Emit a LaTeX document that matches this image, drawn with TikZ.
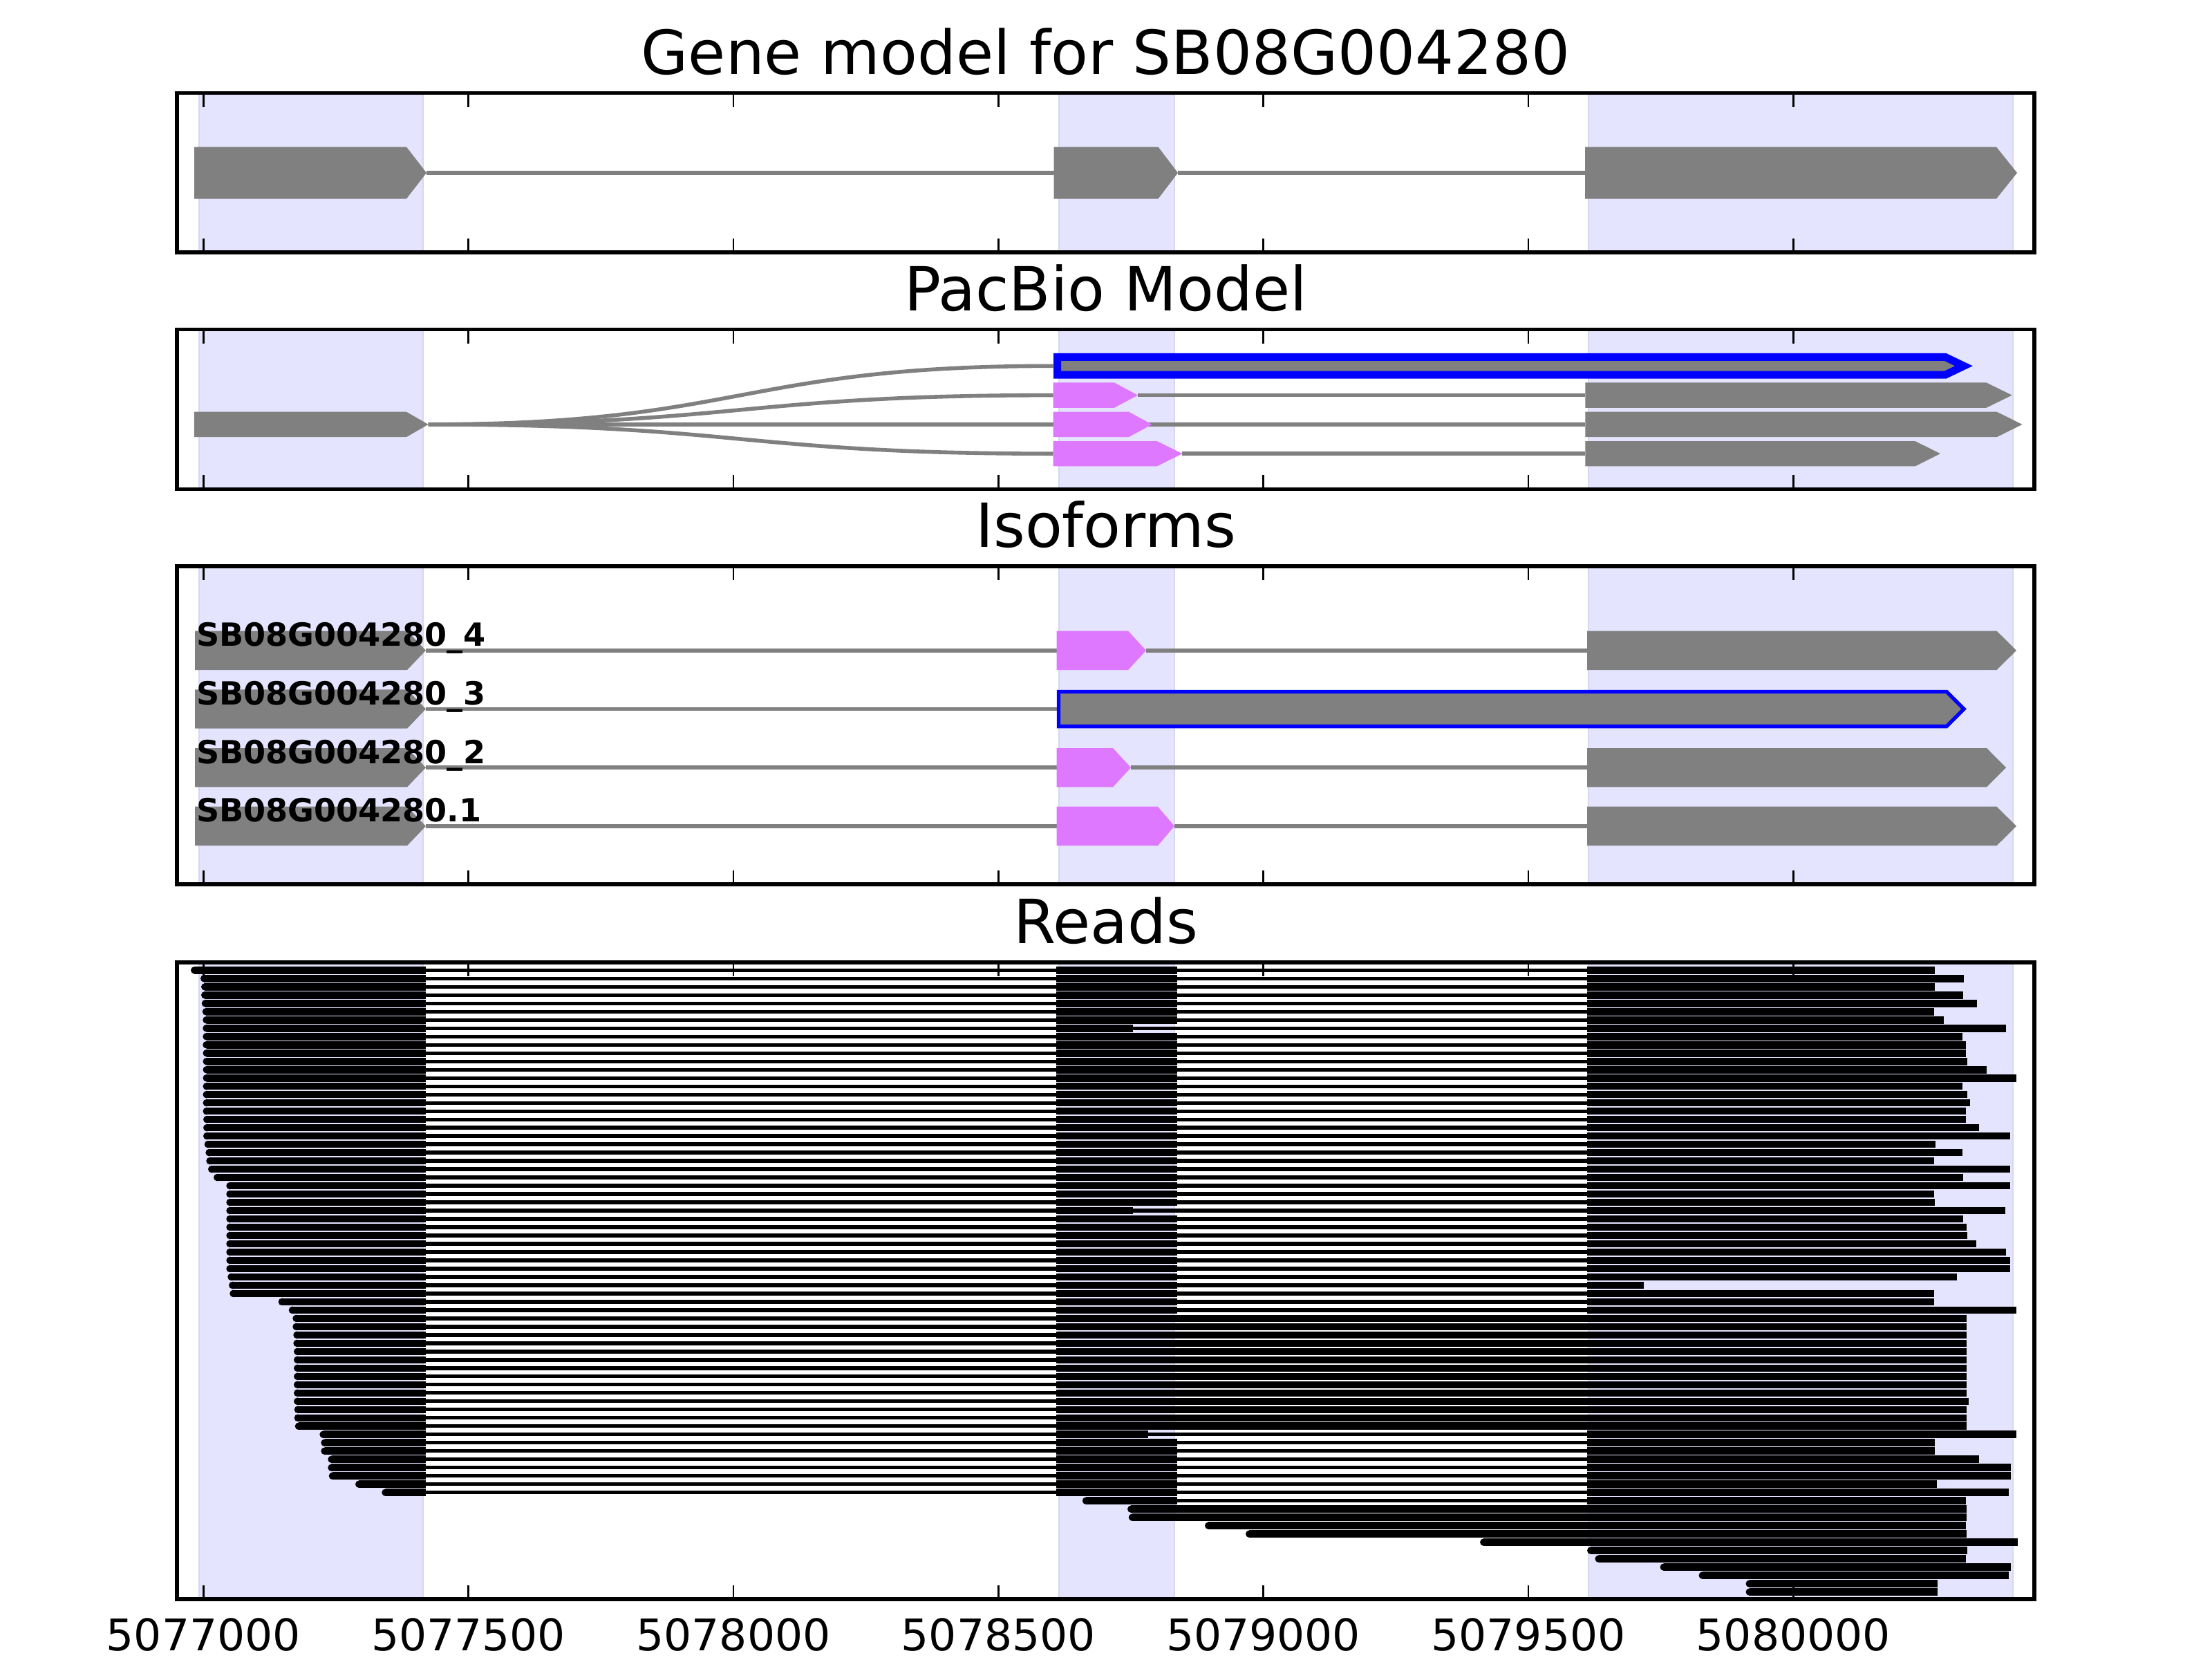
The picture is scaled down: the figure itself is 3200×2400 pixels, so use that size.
\documentclass[tikz,border=0pt]{standalone}
\usepackage{fontspec}
\setmainfont{DejaVu Sans}
\definecolor{hlfill}{RGB}{228,228,254}
\definecolor{hledge}{RGB}{214,214,238}
\definecolor{exgrey}{RGB}{128,128,128}
\definecolor{expink}{RGB}{222,120,255}
\def\pxu{0.180675pt}
\tikzset{
 hl/.style={fill=hlfill, draw=hledge, line width=2*\pxu},
 spine/.style={draw=black, line width=5.2*\pxu},
 tickm/.style={draw=black, line width=2.8*\pxu},
 intron/.style={draw=exgrey, line width=5.6*\pxu},
 gex/.style={fill=exgrey},
 pex/.style={fill=expink},
 bex/.style={fill=exgrey, draw=blue, line join=miter},
 thinread/.style={draw=black, line width=5.3*\pxu},
 ttl/.style={anchor=base, inner sep=0, font=\fontsize{15.9pt}{19pt}\selectfont},
 ticklab/.style={anchor=north, inner sep=0, font=\fontsize{11.4pt}{14pt}\selectfont},
 isolab/.style={anchor=base west, inner sep=0, font=\fontsize{8.33pt}{10pt}\selectfont\bfseries},
}
% highlight bands
\newcommand\hls[2]{%
 \path[hl] (288,#1) rectangle (612,#2);
 \path[hl] (1532,#1) rectangle (1699,#2);
 \path[hl] (2298,#1) rectangle (2912,#2);}
% axes frame with inward ticks
\newcommand\axbox[2]{%
 \draw[spine] (256,#1) rectangle (2943,#2);
 \foreach \tk in {294.3,677.6,1061,1444.3,1827.6,2211,2594.3}{
  \draw[tickm] (\tk,#1) -- (\tk,#1+20);
  \draw[tickm] (\tk,#2) -- (\tk,#2-20);}}
% exon arrow: style, x0, head start, tip, y centre, half height
\newcommand\exn[6]{\path[#1] (#2,#5-#6) -- (#3,#5-#6) -- (#4,#5) -- (#3,#5+#6) -- (#2,#5+#6) -- cycle;}
% reads
\newcommand\rbar[2]{\fill ({#1+5.3},\ry-5.3) rectangle (#2,\ry+5.3); \fill ({#1+5.3},\ry) circle[radius=5.3];}
\newcommand\sbar[2]{\fill (#1,\ry-5.3) rectangle (#2,\ry+5.3);}
\newcommand\rdA[4]{\pgfmathsetmacro\ry{1403.3+11.99*#1}%
 \draw[thinread] (615.7,\ry) -- (2296,\ry);
 \rbar{#2}{615.7}\sbar{1528}{#3}\sbar{2296}{#4}}
\newcommand\rdR[3]{\pgfmathsetmacro\ry{1403.3+11.99*#1}%
 \draw[thinread] (615.7,\ry) -- (1528,\ry);
 \rbar{#2}{615.7}\sbar{1528}{#3}}
\newcommand\rdM[3]{\pgfmathsetmacro\ry{1403.3+11.99*#1}%
 \draw[thinread] (1702.7,\ry) -- (2296,\ry);
 \rbar{#2}{1702.7}\sbar{2296}{#3}}
\newcommand\rdT[3]{\pgfmathsetmacro\ry{1403.3+11.99*#1}%
 \rbar{#2}{#3}}
\begin{document}
\begin{tikzpicture}[x=\pxu, y=-\pxu]
\useasboundingbox[fill=white] (0,0) rectangle (3200,2400);

% ---------- Panel 1: gene model ----------
\node[ttl] (t1) at (1599.5,107) {Gene model for SB08G004280};
\hls{134.8}{365}
\draw[intron] (617,250) -- (1524.5,250);
\draw[intron] (1704,250) -- (2293,250);
\exn{gex}{281}{588}{617}{250}{37.5}
\exn{gex}{1524.5}{1675.5}{1704}{250}{37.5}
\exn{gex}{2293}{2888}{2918}{250}{37.5}
\axbox{134.8}{365}

% ---------- Panel 2: PacBio model ----------
\node[ttl] (t2) at (1599.5,449) {PacBio Model};
\hls{476.7}{707.3}
\draw[intron] (619.6,613.9) .. controls (1071.7,613.9) and (1071.7,529.3) .. (1523.7,529.3);
\draw[intron] (619.6,613.9) .. controls (1071.7,613.9) and (1071.7,571.6) .. (1523.7,571.6);
\draw[intron] (619.6,613.9) -- (2293.4,613.9);
\draw[intron] (619.6,613.9) .. controls (1071.7,613.9) and (1071.7,656.2) .. (1523.7,656.2);
\draw[intron] (1646,571.6) -- (2293.4,571.6);
\draw[intron] (1710.4,656.2) -- (2293.4,656.2);
\exn{gex}{280.8}{588}{619.6}{613.9}{18.2}
\path[bex, line width=11*\pxu] (1529.5,516.4) -- (2814,516.4) -- (2841,529.3) -- (2814,542.2) -- (1529.5,542.2) -- cycle;
\exn{pex}{1523.7}{1612}{1646}{571.6}{18.2}
\exn{gex}{2293.4}{2873.5}{2910.7}{571.6}{18.2}
\exn{pex}{1523.7}{1633}{1666.5}{613.9}{18.2}
\exn{gex}{2293.4}{2888.8}{2925.5}{613.9}{18.2}
\exn{pex}{1523.7}{1673.7}{1710.4}{656.2}{18.2}
\exn{gex}{2293.4}{2770.4}{2807}{656.2}{18.2}
\axbox{476.7}{707.3}

% ---------- Panel 3: isoforms ----------
\node[ttl] (t3) at (1599.5,791) {Isoforms};
\hls{819}{1279}
\draw[intron] (616,940.8) -- (1528.7,940.8);
\draw[intron] (1658,940.8) -- (2296,940.8);
\draw[intron] (616,1025.5) -- (1531,1025.5);
\draw[intron] (616,1110.2) -- (1528.7,1110.2);
\draw[intron] (1636,1110.2) -- (2296,1110.2);
\draw[intron] (616,1194.9) -- (1528.7,1194.9);
\draw[intron] (1699,1194.9) -- (2296,1194.9);
\exn{gex}{282}{589}{616}{940.8}{28.2}
\exn{gex}{282}{589}{616}{1025.5}{28.2}
\exn{gex}{282}{589}{616}{1110.2}{28.2}
\exn{gex}{282}{589}{616}{1194.9}{28.2}
\exn{pex}{1528.7}{1632}{1658}{940.8}{28.2}
\exn{gex}{2296}{2888.5}{2917}{940.8}{28.2}
\path[bex, line width=5.3*\pxu] (1531.4,1000.4) -- (2816,1000.4) -- (2841,1025.5) -- (2816,1050.6) -- (1531.4,1050.6) -- cycle;
\exn{pex}{1528.7}{1610}{1636}{1110.2}{28.2}
\exn{gex}{2296}{2874}{2902}{1110.2}{28.2}
\exn{pex}{1528.7}{1675}{1699}{1194.9}{28.2}
\exn{gex}{2296}{2888.5}{2917}{1194.9}{28.2}
\node[isolab] (l4) at (283,934.8) {SB08G004280\_4};
\node[isolab] (l3) at (283,1019.5) {SB08G004280\_3};
\node[isolab] (l2) at (283,1104.2) {SB08G004280\_2};
\node[isolab] (l1) at (283,1188.9) {SB08G004280.1};
\axbox{819}{1279}

% ---------- Panel 4: reads ----------
\node[ttl] (t4) at (1599.5,1364) {Reads};
\hls{1392}{2313}
\foreach \i/\a/\m/\r in {
 0/276/1702.7/2798.7, 1/290/1702.7/2841.4, 2/291/1702.7/2798.7, 3/291/1702.7/2840,
 4/291.7/1702.7/2859.7, 5/292.7/1702.7/2797.7, 6/293.3/1702.7/2811.5, 7/293.3/1639/2901.5,
 8/293.3/1702.7/2839, 9/293.3/1702.7/2843.7, 10/293.5/1702.7/2843.7, 11/293.5/1702.7/2845.5,
 12/293.5/1702.7/2873.5, 13/293.5/1702.7/2916.7, 14/293.5/1702.7/2839, 15/293.5/1702.7/2845.5,
 16/293.5/1702.7/2849.6, 17/293.5/1702.7/2843.7, 18/294/1702.7/2843.7, 19/294/1702.7/2862.5,
 20/294/1702.7/2908.4, 21/295.7/1702.7/2799.6, 22/297.3/1702.7/2839, 23/298.3/1702.7/2797.7,
 24/301/1702.7/2908.4, 25/309/1702.7/2840, 26/327.3/1702.7/2908.4, 27/327.3/1702.7/2797.7,
 28/327.3/1702.7/2798.7, 29/327.3/1639/2900.6, 30/327.3/1702.7/2840, 31/327.3/1702.7/2844.6,
 32/327.3/1702.7/2845.5, 33/327.3/1702.7/2858.8, 34/327.3/1702.7/2902.4, 35/327.3/1702.7/2908.4,
 36/327.3/1702.7/2908.4, 37/329.3/1702.7/2830.8, 38/331/1702.7/2377.6, 39/332.3/1702.7/2797.7,
 40/402.7/1702.7/2797.7, 41/417.7/1702.7/2916.7,
 56/462.3/1660.7/2916.7, 57/464.3/1702.7/2798.7, 58/464.3/1702.7/2798.7, 59/474.3/1702.7/2863,
 60/474.3/1702.7/2909, 61/475.7/1702.7/2909, 62/514/1702.7/2802, 63/552.3/1702.7/2905.6}
 {\rdA{\i}{\a}{\m}{\r}}
\foreach \i/\a/\r in {
 42/423.3/2844.6, 43/423.3/2844.6, 44/424.3/2844.6, 45/424.3/2844.6, 46/425/2844.6,
 47/425/2844.6, 48/425/2844.6, 49/425/2844.6, 50/425/2844.6, 51/425/2844.6,
 52/425/2848, 53/425.7/2844.6, 54/425.7/2844.6, 55/426.7/2844.6}
 {\rdR{\i}{\a}{\r}}
\rdM{64}{1565.8}{2843.7}
\foreach \i/\a/\r in {
 65/1631/2844.6, 66/1632.7/2844.6, 67/1743/2843.7, 68/1802/2844.6, 69/2141/2919.4,
 70/2296/2845.5, 71/2307.4/2843.7, 72/2401.5/2909, 73/2457.5/2905.6, 74/2525.5/2803.3,
 75/2525.5/2803.3}
 {\rdT{\i}{\a}{\r}}
\axbox{1392}{2313}

% tick labels
\foreach \tk/\lab [count=\n] in {294.3/5077000,677.6/5077500,1061/5078000,1444.3/5078500,1827.6/5079000,2211/5079500,2594.3/5080000}
 \node[ticklab] (x\n) at (\tk,2340) {\lab};
\end{tikzpicture}
\end{document}
